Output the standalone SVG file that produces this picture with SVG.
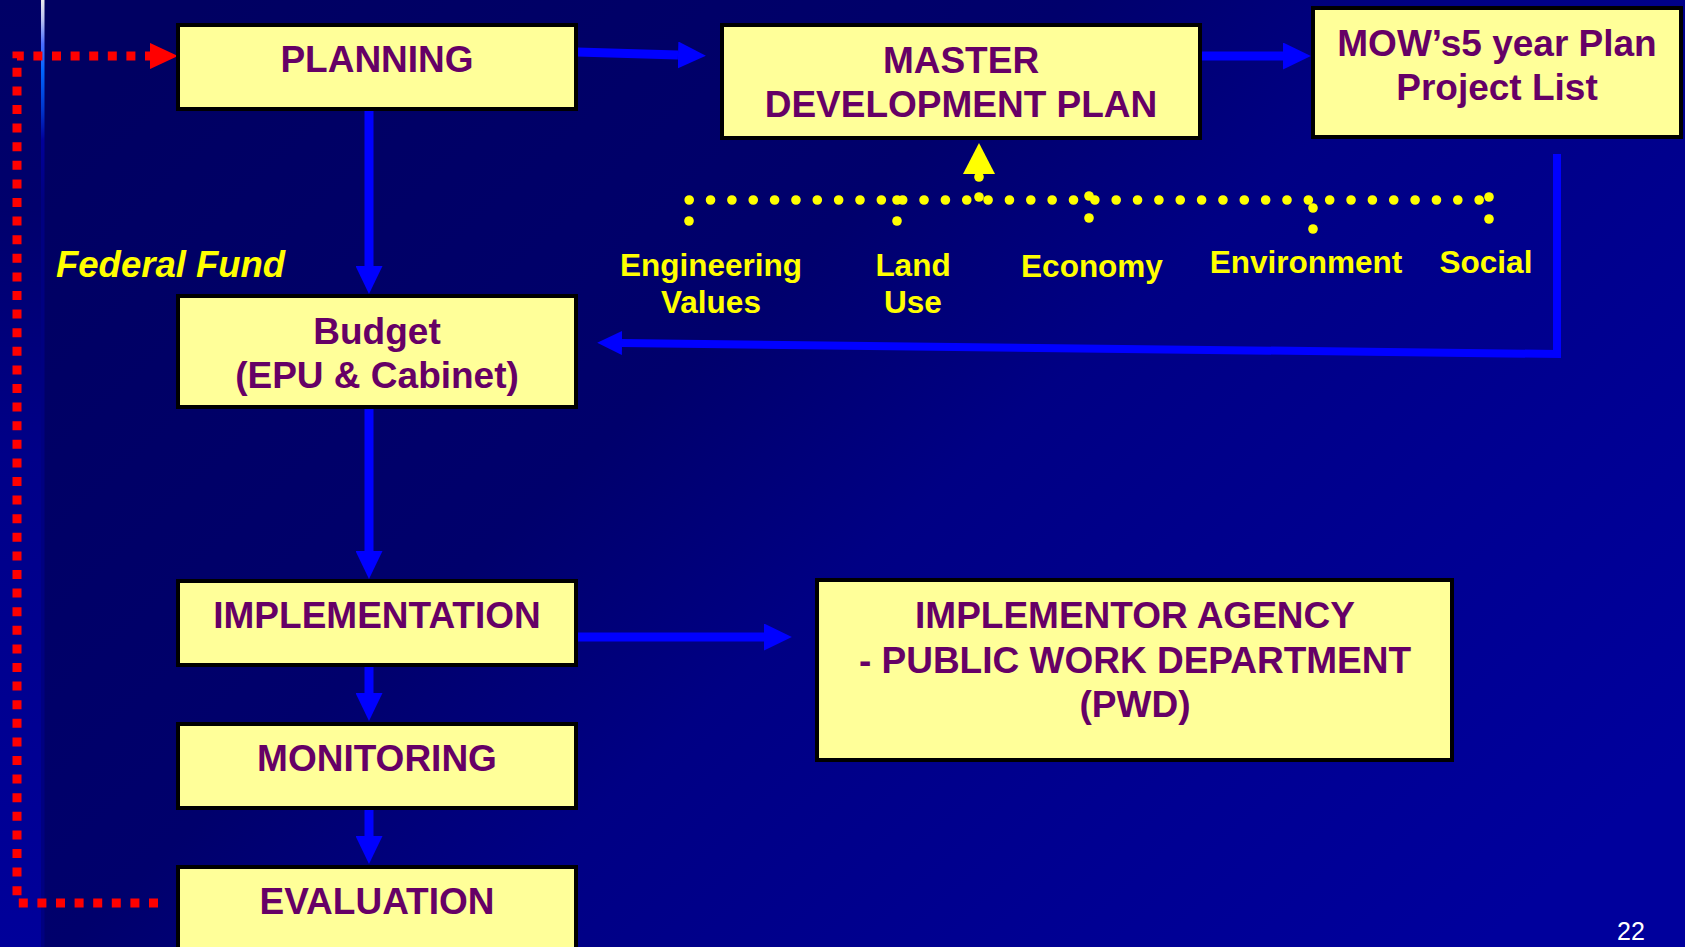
<svg xmlns="http://www.w3.org/2000/svg" width="1685" height="947" viewBox="0 0 1685 947">
<defs>
<linearGradient id="bgMain" x1="0" y1="0.2" x2="1" y2="0.8">
<stop offset="0" stop-color="#000062"/>
<stop offset="0.38" stop-color="#00006c"/>
<stop offset="0.55" stop-color="#000084"/>
<stop offset="0.8" stop-color="#000092"/>
<stop offset="1" stop-color="#00009c"/>
</linearGradient>
<linearGradient id="bgStrip" x1="0" y1="0" x2="0" y2="1">
<stop offset="0" stop-color="#000066"/>
<stop offset="0.22" stop-color="#00006c"/>
<stop offset="0.48" stop-color="#000088"/>
<stop offset="1" stop-color="#00009a"/>
</linearGradient>
<linearGradient id="glow" gradientUnits="userSpaceOnUse" x1="0" y1="0" x2="0" y2="200">
<stop offset="0" stop-color="#ececec"/>
<stop offset="0.1" stop-color="#b8c0f0"/>
<stop offset="0.22" stop-color="#4a6cff"/>
<stop offset="0.35" stop-color="#0066ff"/>
<stop offset="0.55" stop-color="#0034cc"/>
<stop offset="0.7" stop-color="#00009a"/>
<stop offset="1" stop-color="#000080"/>
</linearGradient>
<marker id="ah" viewBox="0 0 10 10" refX="0" refY="5" markerWidth="3.1" markerHeight="3" markerUnits="strokeWidth" orient="auto" preserveAspectRatio="none">
<path d="M0,0 L10,5 L0,10 z" fill="#0000FF"/>
</marker>
<marker id="rh" viewBox="0 0 10 10" refX="0" refY="5" markerWidth="3.1" markerHeight="2.9" markerUnits="strokeWidth" orient="auto" preserveAspectRatio="none">
<path d="M0,0 L10,5 L0,10 z" fill="#FF0000"/>
</marker>
<style>
.box{fill:#FFFF99;stroke:#000000;stroke-width:4}
.t{font-family:"Liberation Sans",Arial,sans-serif;font-weight:bold;font-size:37px;fill:#660066;text-anchor:middle}
.lbl{font-family:"Liberation Sans",Arial,sans-serif;font-weight:bold;font-size:31.5px;fill:#FFFF00;text-anchor:middle}
.blue{fill:none;stroke:#0000FF;stroke-width:9;marker-end:url(#ah)}
.red{fill:none;stroke:#FF0000;stroke-width:9;stroke-dasharray:9 9.6;marker-end:url(#rh)}
.dots{fill:none;stroke:#FFFF00;stroke-width:9.6;stroke-linecap:round;stroke-dasharray:0 21.35}
.dot{fill:#FFFF00}
</style>
</defs>

<g id="background">
<rect x="0" y="0" width="1685" height="947" fill="url(#bgMain)"/>
<rect x="0" y="0" width="41" height="947" fill="url(#bgStrip)"/>
<rect x="41" y="0" width="3.5" height="947" fill="url(#glow)"/>
</g>

<g id="connectors">
<path class="blue" d="M577,52 L678,55"/>
<path class="blue" d="M1202,56 L1283,56"/>
<path class="blue" d="M369,111 L369,266"/>
<path class="blue" d="M369,409 L369,551"/>
<path class="blue" d="M369,667 L369,693"/>
<path class="blue" d="M369,810 L369,836"/>
<path class="blue" d="M578,637 L764,637"/>
<path class="blue" style="stroke-width:8" d="M1557,154 L1557,354 L622,343"/>
<path class="red" d="M158,903 L17,903 L17,56 L150,56"/>
<g id="criteria-bracket">
<path class="dots" d="M689.2,200 L1480,200"/>
<circle class="dot" cx="689" cy="221" r="4.8"/>
<circle class="dot" cx="897" cy="200" r="4.8"/>
<circle class="dot" cx="897" cy="221" r="4.8"/>
<circle class="dot" cx="979" cy="197" r="4.8"/>
<circle class="dot" cx="979" cy="177" r="4.8"/>
<circle class="dot" cx="1089" cy="196" r="4.8"/>
<circle class="dot" cx="1089" cy="218" r="4.8"/>
<circle class="dot" cx="1313" cy="208" r="4.8"/>
<circle class="dot" cx="1313" cy="229" r="4.8"/>
<circle class="dot" cx="1489" cy="197" r="4.8"/>
<circle class="dot" cx="1489" cy="219" r="4.8"/>
<polygon class="dot" points="979,143 995,174 963,174"/>
</g>
</g>

<g id="planning">
<rect class="box" x="178" y="25" width="398" height="84"/>
<text class="t" x="377" y="72">PLANNING</text>
</g>
<g id="master-development-plan">
<rect class="box" x="722" y="25" width="478" height="113"/>
<text class="t" x="961" y="73">MASTER</text>
<text class="t" x="961" y="117">DEVELOPMENT PLAN</text>
</g>
<g id="mow-plan">
<rect class="box" x="1313" y="8" width="368" height="129"/>
<text class="t" x="1497" y="56">MOW’s5 year Plan</text>
<text class="t" x="1497" y="100">Project List</text>
</g>
<g id="budget">
<rect class="box" x="178" y="296" width="398" height="111"/>
<text class="t" x="377" y="344">Budget</text>
<text class="t" x="377" y="388">(EPU &amp; Cabinet)</text>
</g>
<g id="implementation">
<rect class="box" x="178" y="581" width="398" height="84"/>
<text class="t" x="377" y="628">IMPLEMENTATION</text>
</g>
<g id="monitoring">
<rect class="box" x="178" y="724" width="398" height="84"/>
<text class="t" x="377" y="771">MONITORING</text>
</g>
<g id="evaluation">
<rect class="box" x="178" y="867" width="398" height="100"/>
<text class="t" x="377" y="914">EVALUATION</text>
</g>
<g id="implementor-agency">
<rect class="box" x="817" y="580" width="635" height="180"/>
<text class="t" x="1135" y="628">IMPLEMENTOR AGENCY</text>
<text class="t" x="1135" y="673">- PUBLIC WORK DEPARTMENT</text>
<text class="t" x="1135" y="717">(PWD)</text>
</g>

<g id="labels">
<text x="56" y="277" style="font-family:'Liberation Sans',Arial,sans-serif;font-weight:bold;font-style:italic;font-size:36.5px;fill:#FFFF00">Federal Fund</text>
<text class="lbl" x="711" y="276">Engineering</text>
<text class="lbl" x="711" y="313">Values</text>
<text class="lbl" x="913" y="276">Land</text>
<text class="lbl" x="913" y="313">Use</text>
<text class="lbl" x="1092" y="277">Economy</text>
<text class="lbl" x="1306" y="273">Environment</text>
<text class="lbl" x="1486" y="273">Social</text>
<text x="1631" y="940" style="font-family:'Liberation Sans',Arial,sans-serif;font-size:25px;fill:#FFFFFF;text-anchor:middle">22</text>
</g>
</svg>
